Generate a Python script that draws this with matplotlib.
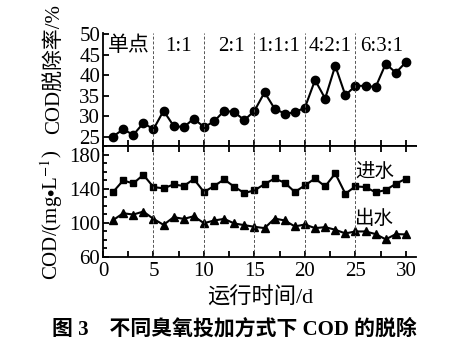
import matplotlib
matplotlib.use('Agg')
import matplotlib.pyplot as plt
from matplotlib.ticker import MultipleLocator

plt.rcParams['font.family'] = ['Liberation Serif', 'Noto Sans CJK SC']
plt.rcParams['mathtext.fontset'] = 'stix'

# données
jours = list(range(1, 31))
taux = [25.0, 26.8, 25.4, 28.3, 26.8, 31.3, 27.6, 27.3, 29.4, 27.3,
        28.7, 31.3, 31.0, 29.0, 31.3, 35.8, 31.8, 30.6, 30.9, 32.1,
        38.8, 34.3, 42.3, 35.1, 37.4, 37.4, 37.1, 42.8, 40.6, 43.2]
entree = [136.4, 150.0, 146.5, 156.6, 142.2, 140.7, 145.3, 143.4, 151.6, 136.4,
          143.4, 151.2, 142.6, 135.2, 138.3, 145.7, 152.3, 147.3, 136.4, 144.2,
          152.3, 143.0, 158.2, 134.4, 143.0, 142.2, 136.0, 138.7, 146.1, 152.0]
sortie = [103.3, 111.4, 109.9, 113.4, 104.8, 97.8, 106.8, 104.8, 107.9, 99.7,
          102.9, 104.8, 99.4, 97.4, 95.5, 93.9, 105.2, 102.9, 95.9, 98.2,
          93.9, 95.1, 92.0, 87.7, 90.0, 90.0, 86.9, 80.7, 86.9, 86.5]
limites = [5, 10, 15, 20, 25]
modes = ['单点', '1:1', '2:1', '1:1:1', '4:2:1', '6:3:1']
pos_modes = [2.6, 7.5, 12.7, 17.4, 22.5, 27.6]

fig = plt.figure(figsize=(4.68, 3.44), dpi=100)
ax1 = fig.add_axes([0.220, 0.5756, 0.669, 0.3284])
ax2 = fig.add_axes([0.220, 0.253, 0.669, 0.3226])

fs = 15

# panneau du haut : taux de dégradation
ax1.plot(jours, taux, '-o', color='black', lw=1.5, ms=6)
for x in limites:
    ax1.axvline(x, color='#555555', lw=0.7, ls=(0, (3, 2)))
for lab, x in zip(modes, pos_modes):
    ax1.text(x, 47.0, lab, ha='center', va='center', fontsize=15)
ax1.set_xlim(0, 31)
ax1.set_ylim(22.7, 50.3)
ax1.set_yticks([25, 30, 35, 40, 45, 50])
ax1.xaxis.set_major_locator(MultipleLocator(5))
ax1.xaxis.set_minor_locator(MultipleLocator(2.5))
ax1.spines['top'].set_visible(False)
ax1.spines['right'].set_visible(False)
ax1.tick_params(axis='both', direction='in', labelsize=fs, width=1.3, length=4)
ax1.tick_params(axis='y', pad=2)
ax1.tick_params(axis='x', which='both', labelbottom=False, direction='in', width=1.3)
ax1.tick_params(axis='x', which='minor', length=4)

# panneau du bas : DCO entrée / sortie
ax2.plot(jours, entree, '-s', color='black', lw=1.5, ms=5)
ax2.plot(jours, sortie, '-^', color='black', lw=1.5, ms=6)
for x in limites:
    ax2.axvline(x, color='#555555', lw=0.7, ls=(0, (3, 2)))
ax2.text(26.9, 160, '进水', ha='center', va='center', fontsize=14)
ax2.text(26.9, 104.6, '出水', ha='center', va='center', fontsize=14)
ax2.set_xlim(0, 31)
ax2.set_ylim(60, 190.5)
ax2.set_yticks([60, 100, 140, 180])
ax2.yaxis.set_minor_locator(MultipleLocator(10))
ax2.set_xticks([0, 5, 10, 15, 20, 25, 30])
ax2.xaxis.set_minor_locator(MultipleLocator(2.5))
ax2.spines['right'].set_visible(False)
ax2.tick_params(axis='both', which='both', direction='in', labelsize=fs, width=1.3, length=4,
                top=True)
ax2.tick_params(axis='y', pad=2)
ax2.tick_params(axis='y', which='minor', length=3)

for ax in (ax1, ax2):
    for s in ax.spines.values():
        s.set_linewidth(1.3)

fig.text(0.118, 0.80, 'COD脱除率/%', rotation=90, ha='center', va='center', fontsize=15)
fig.text(0.111, 0.375, r'COD/(mg$\bullet$L$^{-1}$)', rotation=90, ha='center', va='center',
         fontsize=15)
fig.text(0.555, 0.134, '运行时间/d', ha='center', va='center', fontsize=16)
fig.text(0.50, 0.044, '图 3　不同臭氧投加方式下 COD 的脱除', ha='center', va='center',
         fontsize=15, fontweight='bold')

fig.savefig('out.png', dpi=100)
